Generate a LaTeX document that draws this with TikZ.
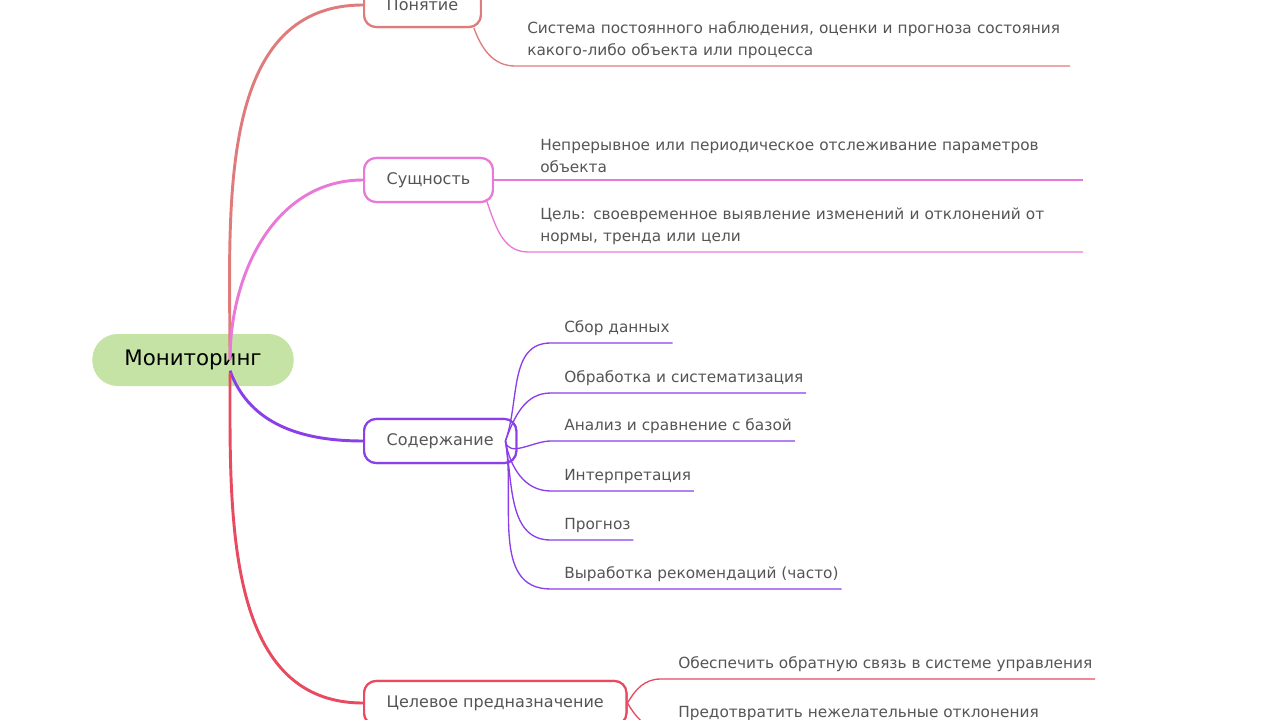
\documentclass[tikz,border=0pt]{standalone}
\usepackage{fontspec}
\setmainfont{DejaVu Sans}
\usetikzlibrary{calc}
\definecolor{cPon}{HTML}{E07B7B}
\definecolor{cSus}{HTML}{E879D8}
\definecolor{cSod}{HTML}{8A3FE8}
\definecolor{cCel}{HTML}{E84A5F}
\definecolor{cRoot}{HTML}{C5E3A5}
\definecolor{cTxt}{HTML}{555555}
\tikzset{
  root/.style={fill=cRoot,rounded corners=19pt,minimum width=151pt,minimum height=39pt,font=\fontsize{16}{19}\selectfont},
  branch/.style={draw=#1,line width=1.6pt,fill=white,rounded corners=9pt,minimum height=33pt,inner xsep=17pt,text=cTxt,font=\fontsize{12}{14}\selectfont},
  leaf/.style={anchor=south west,inner xsep=0pt,inner ysep=5pt,text=cTxt,font=\fontsize{11.5}{17}\selectfont,align=left},
  big/.style={line width=2.2pt,draw=#1},
  thin/.style={line width=1pt,draw=#1}
}
\begin{document}
\begin{tikzpicture}[x=0.75pt,y=-0.75pt]
\useasboundingbox (0,0) rectangle (1280,720);
\node[root] (mon) at (193,360) {Мониторинг};
\coordinate (mr) at (230,360);
\node[branch=cPon,anchor=west] (pon) at (363,5) {Понятие};
\node[branch=cSus,anchor=west] (sus) at (363,180) {Сущность};
\node[branch=cSod,anchor=west] (sod) at (363,441) {Содержание};
\node[branch=cCel,anchor=west] (cel) at (363,703) {Целевое предназначение};
% root connectors
\draw[big=cPon] (mr) to[out=90,in=180] (pon.west);
\draw[big=cSus] (mr) to[out=90,in=180] (sus.west);
\draw[big=cSod] ([yshift=-8pt]mr) to[out=-70,in=180] (sod.west);
\draw[big=cCel] ([yshift=-10pt]mr) to[out=-90,in=180] (cel.west);
\node[branch=cPon,anchor=west] at (363,5) {Понятие};
\node[branch=cSus,anchor=west] at (363,180) {Сущность};
\node[branch=cSod,anchor=west] at (363,441) {Содержание};
\node[branch=cCel,anchor=west] at (363,703) {Целевое предназначение};
% leaves
\node[leaf,text width=405pt] (p1) at (527,66) {Система постоянного наблюдения, оценки и прогноза состояния\\какого-либо объекта или процесса};
\node[leaf,text width=405pt] (s1) at (540,180) {Непрерывное или периодическое отслеживание параметров\\объекта};
\node[leaf,text width=405pt] (s2) at (540,252) {Цель: своевременное выявление изменений и отклонений от\\нормы, тренда или цели};
\draw[thin=cPon] ([xshift=-6pt]pon.south east) to[out=-70,in=180] ([xshift=-9pt]p1.south west) -- ([xshift=2pt]p1.south east);
\draw[thin=cSus] (sus.east) -- ([xshift=2pt]s1.south east);
\draw[thin=cSus] ([xshift=-6pt,yshift=3pt]sus.south east) to[out=-70,in=180] ([xshift=-9pt]s2.south west) -- ([xshift=2pt]s2.south east);
\foreach \i/\y/\t in {1/343/Сбор данных,2/393/Обработка и систематизация,3/441/Анализ и сравнение с базой,4/491/Интерпретация,5/540/Прогноз,6/589/Выработка рекомендаций (часто)}{
  \node[leaf] (d\i) at (564,\y) {\t};
  \draw[thin=cSod] ([xshift=-9pt]sod.east) to[out=\y<441?70:-80,in=180] ([xshift=-10pt]d\i.south west) -- ([xshift=2pt]d\i.south east);
}
\node[leaf] (c1) at (678,679) {Обеспечить обратную связь в системе управления};
\node[leaf] (c2) at (678,728) {Предотвратить нежелательные отклонения};
\draw[thin=cCel] (cel.east) to[out=60,in=180] ([xshift=-13pt]c1.south west) -- ([xshift=2pt]c1.south east);
\draw[thin=cCel] (cel.east) to[out=-60,in=180] ([xshift=-13pt]c2.south west) -- ([xshift=2pt]c2.south east);
\end{tikzpicture}
\end{document}
